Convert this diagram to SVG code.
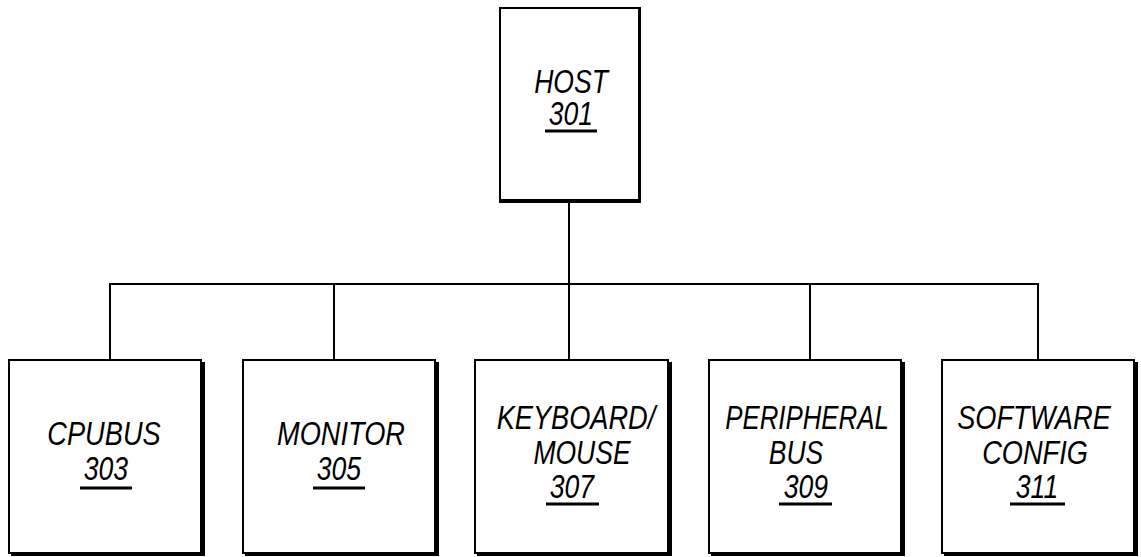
<svg xmlns="http://www.w3.org/2000/svg" width="1141" height="557" viewBox="0 0 1141 557">
<style>
.box{fill:#fff;stroke:#000;stroke-width:2}
.sh{fill:#000}
.t{font-family:"Liberation Sans",Arial,sans-serif;font-style:italic;font-size:34px;fill:#000;text-anchor:middle}
.u{stroke:#000;stroke-width:3}
.c{fill:none;stroke:#000;stroke-width:2}
</style>
<rect width="1141" height="557" fill="#fff"/>
<g id="connectors">
<line class="c" x1="569" y1="203" x2="569" y2="284"/>
<line class="c" x1="109" y1="284" x2="1039" y2="284"/>
<line class="c" x1="110" y1="284" x2="110" y2="360"/>
<line class="c" x1="334" y1="284" x2="334" y2="360"/>
<line class="c" x1="569" y1="284" x2="569" y2="360"/>
<line class="c" x1="810" y1="284" x2="810" y2="360"/>
<line class="c" x1="1038" y1="284" x2="1038" y2="360"/>
</g>
<g id="host">
<rect class="box" x="500" y="8" width="139" height="193"/>
<rect class="sh" x="499" y="199" width="142" height="4"/>
<rect class="sh" x="638" y="7" width="3" height="196"/>
<text class="t" transform="translate(571,93) scale(0.78,1)">HOST</text>
<text class="t" transform="translate(571,125) scale(0.78,1)">301</text>
<line class="u" x1="545" y1="131" x2="597" y2="131"/>
</g>
<g id="cpubus">
<rect class="box" x="9" y="360" width="192" height="193"/>
<rect class="sh" x="201" y="362" width="4" height="194"/>
<rect class="sh" x="11" y="552" width="194" height="4"/>
<text class="t" transform="translate(104,445) scale(0.8,1)">CPUBUS</text>
<text class="t" transform="translate(106,480) scale(0.78,1)">303</text>
<line class="u" x1="80" y1="488" x2="132" y2="488"/>
</g>
<g id="monitor">
<rect class="box" x="243" y="360" width="192" height="193"/>
<rect class="sh" x="435" y="362" width="4" height="194"/>
<rect class="sh" x="245" y="552" width="194" height="4"/>
<text class="t" transform="translate(341,445) scale(0.8,1)">MONITOR</text>
<text class="t" transform="translate(339,480) scale(0.78,1)">305</text>
<line class="u" x1="313" y1="488" x2="365" y2="488"/>
</g>
<g id="keyboard">
<rect class="box" x="475" y="360" width="193" height="193"/>
<rect class="sh" x="668" y="362" width="4" height="194"/>
<rect class="sh" x="477" y="552" width="195" height="4"/>
<text class="t" transform="translate(576,429) scale(0.8,1)">KEYBOARD/</text>
<text class="t" transform="translate(582,464) scale(0.78,1)">MOUSE</text>
<text class="t" transform="translate(572,498) scale(0.78,1)">307</text>
<line class="u" x1="546" y1="504" x2="599" y2="504"/>
</g>
<g id="peripheral">
<rect class="box" x="709" y="360" width="192" height="193"/>
<rect class="sh" x="901" y="362" width="4" height="194"/>
<rect class="sh" x="711" y="552" width="194" height="4"/>
<text class="t" transform="translate(807,429) scale(0.76,1)">PERIPHERAL</text>
<text class="t" transform="translate(796,464) scale(0.78,1)">BUS</text>
<text class="t" transform="translate(806,498) scale(0.78,1)">309</text>
<line class="u" x1="779" y1="504" x2="832" y2="504"/>
</g>
<g id="software">
<rect class="box" x="942" y="360" width="192" height="193"/>
<rect class="sh" x="1134" y="362" width="4" height="194"/>
<rect class="sh" x="944" y="552" width="194" height="4"/>
<text class="t" transform="translate(1034,429) scale(0.8,1)">SOFTWARE</text>
<text class="t" transform="translate(1035,464) scale(0.8,1)">CONFIG</text>
<text class="t" transform="translate(1037,498) scale(0.78,1)">311</text>
<line class="u" x1="1010" y1="504" x2="1065" y2="504"/>
</g>
</svg>
